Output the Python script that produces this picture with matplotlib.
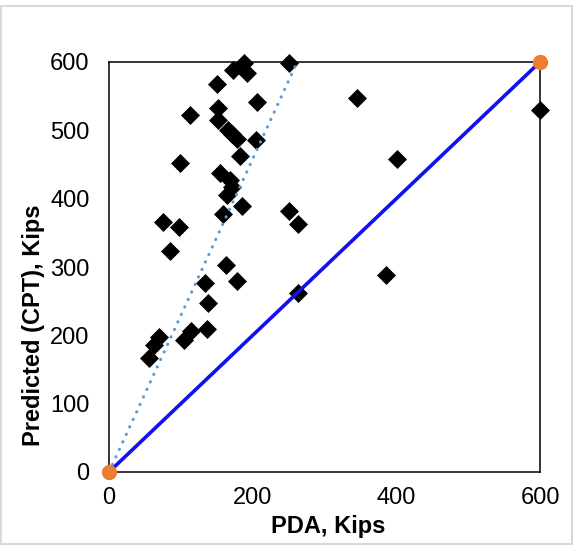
import matplotlib
matplotlib.use("Agg")
import matplotlib.pyplot as plt
from matplotlib.patches import Rectangle

# valeurs (PDA vs CPT, kips)
pda = [251, 188, 173, 192, 150, 206, 113, 152, 152, 345, 600, 165, 171, 178,
       205, 183, 99, 401, 154, 168, 171, 164, 185, 159, 250, 263, 75, 98, 85,
       163, 385, 178, 134, 138, 263, 136, 114, 105, 70, 62, 56]
cpt = [599, 599, 588, 584, 568, 541, 523, 532, 515, 548, 530, 500, 494, 488,
       486, 462, 452, 458, 437, 427, 417, 406, 389, 378, 382, 363, 366, 358, 324,
       303, 289, 279, 277, 247, 262, 209, 207, 193, 197, 186, 167]

# droite 1:1 et tendance
ligne_x = [0, 600]
ligne_y = [0, 600]
tend_x = [0, 262]
tend_y = [0, 600]

ticks_x = [0, 200, 400, 600]
ticks_y = [0, 100, 200, 300, 400, 500, 600]

plt.rcParams['font.family'] = ['Liberation Sans', 'DejaVu Sans']

fig = plt.figure(figsize=(5.73, 5.5), dpi=100)
ax = fig.add_axes([109/573, 78/550, 431/573, 410/550])

ax.plot(pda, cpt, linestyle='none', marker='D', markersize=8.8,
        color='black', markeredgewidth=0.5, clip_on=False, zorder=3)
ax.plot(tend_x, tend_y, linestyle=(0, (0.1, 2.6)), linewidth=2.2,
        color='#5B9BD5', dash_capstyle='round', clip_on=False, zorder=4)
ax.plot(ligne_x, ligne_y, color='#1010F0', linewidth=2.6, clip_on=False,
        zorder=5)
ax.plot(ligne_x, ligne_y, linestyle='none', marker='o', markersize=10,
        color='#ED7D31', clip_on=False, zorder=6)

ax.set_xlim(0, 600)
ax.set_ylim(0, 600)
ax.set_xticks(ticks_x)
ax.set_yticks(ticks_y)
ax.tick_params(axis='both', length=0, labelsize=17)
ax.tick_params(axis='x', pad=11)
ax.tick_params(axis='y', pad=14)
for s in ax.spines.values():
    s.set_linewidth(1.1)
    s.set_color('black')

fig.text(328/573, 1 - 527/550, 'PDA, Kips', ha='center', va='center',
         fontsize=17, fontweight='bold')
fig.text(34/573, 1 - 325/550, 'Predicted (CPT), Kips', ha='center',
         va='center', rotation=90, fontsize=17, fontweight='bold')

# cadre gris autour du graphique
fig.patches.append(Rectangle((1/573, 6/550), 571/573, 538/550,
                             transform=fig.transFigure, fill=False,
                             edgecolor='#D9D9D9', linewidth=1.5))

fig.savefig('out.png', dpi=100)
